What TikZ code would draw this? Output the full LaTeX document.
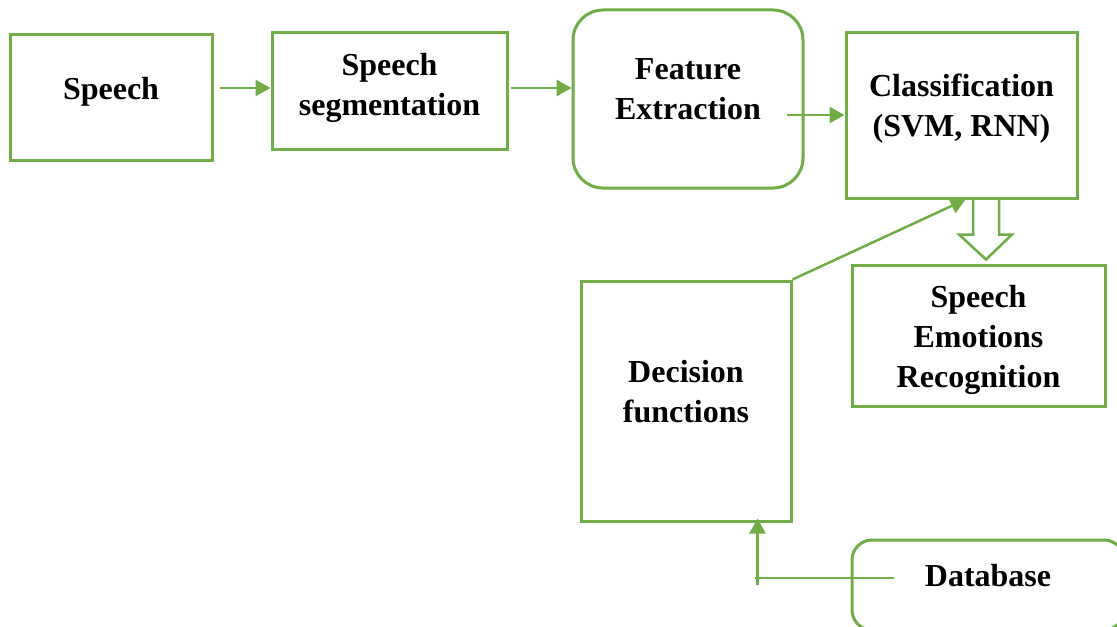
\documentclass[tikz,border=0pt]{standalone}
\usepackage{fontspec}
\setmainfont{Liberation Serif}
\usetikzlibrary{arrows.meta}
\definecolor{leaf}{RGB}{112,173,71}
\begin{document}
\begin{tikzpicture}[x=0.5pt,y=-0.5pt,
    box/.style={draw=leaf,line width=1.5pt,inner sep=0pt},
    lbl/.style={font=\bfseries\fontsize{16}{20}\selectfont,align=center},
    arr/.style={draw=leaf,line width=1.25pt,-{Triangle[length=7.5pt,width=8pt]}},
    link/.style={draw=leaf,line width=1.25pt}]
\useasboundingbox (0,0) rectangle (1117,626);
% boxes
\node[box,minimum width=101pt,minimum height=62.5pt,
    label={[lbl,name=spt,yshift=2.75pt]center:Speech}] (sp) at (111,97.5) {};
\node[box,minimum width=117.5pt,minimum height=58pt,
    label={[lbl,name=segt,yshift=1.75pt]center:Speech\\segmentation}] (seg) at (389.5,91) {};
\node[box,rounded corners=15pt,minimum width=115pt,minimum height=89pt,
    label={[lbl,name=fet,yshift=5pt]center:Feature\\Extraction}] (fe) at (688,99) {};
\node[box,minimum width=115.5pt,minimum height=82.5pt,
    label={[lbl,name=clst,yshift=3.5pt]center:Classification\\(SVM, RNN)}] (cls) at (961.5,115.5) {};
\node[box,minimum width=126.5pt,minimum height=70.5pt,
    label={[lbl,name=sert,yshift=-2pt]center:Speech\\Emotions\\Recognition}] (ser) at (978.5,335.5) {};
\node[box,minimum width=105pt,minimum height=120pt,
    label={[lbl,name=dect,yshift=4.5pt]center:Decision\\functions}] (dec) at (686,401) {};
\node[box,rounded corners=10pt,minimum width=136pt,minimum height=45pt,
    label={[lbl,name=dbt,yshift=4.5pt]center:Database}] (db) at (988,585) {};
% connectors
\draw[arr] ([shift={(6,-9.5)}]sp.east) coordinate (a1) -- (a1 -| seg.west);
\draw[arr] ([shift={(2,-3)}]seg.east) coordinate (a2) -- (a2 -| fe.west);
\draw[arr] ([shift={(-18,16)}]fe.east) coordinate (a3) -- (a3 -| cls.west);
\draw[arr] (dec.north east) -- ([xshift=2pt]cls.south);
\draw[draw=leaf,line width=1.25pt,line join=miter] ([xshift=5.75pt]cls.south)
    -- ++(0,35) -- ++(-14,0) -- ++(27,25) -- ++(26,-25) -- ++(-13,0) -- ++(0,-35);
\coordinate (j) at ([shift={(-93,-7)}]db.west);
\draw[link] ([shift={(43,-7)}]db.west) -- ([xshift=-1.5pt]j);
\draw[arr,shorten >=-2pt] ([yshift=-3.5pt]j) -- (j |- dec.south);
\end{tikzpicture}
\end{document}
